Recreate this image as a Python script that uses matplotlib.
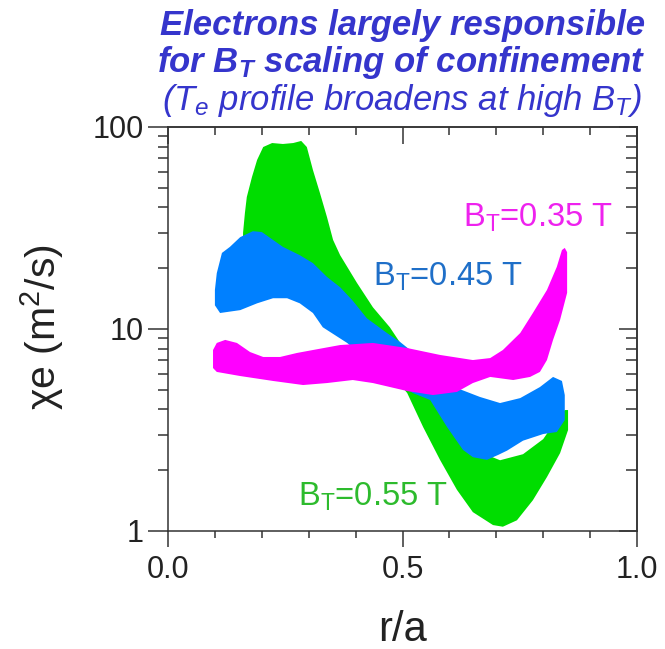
import matplotlib
matplotlib.use('Agg')
import matplotlib.pyplot as plt
from matplotlib.ticker import NullFormatter, LogLocator

plt.rcParams['font.family'] = ['Liberation Sans', 'DejaVu Sans']
plt.rcParams['mathtext.fontset'] = 'custom'
plt.rcParams['mathtext.rm'] = 'Liberation Sans'
plt.rcParams['mathtext.it'] = 'Liberation Sans:italic'
plt.rcParams['mathtext.bf'] = 'Liberation Sans:bold:italic'

# chi_e bands (upper / lower edge of each band), r/a vs m^2/s
green_up_x = [0.160, 0.164, 0.168, 0.179, 0.190, 0.203, 0.222, 0.245, 0.267, 0.284,
              0.296, 0.309, 0.324, 0.339, 0.352, 0.367, 0.403, 0.437, 0.473, 0.501,
              0.559, 0.623, 0.680, 0.708, 0.757, 0.800, 0.825, 0.846, 0.853]
green_up_y = [29.9, 37.5, 45.0, 56.5, 68.7, 79.6, 83.3, 82.4, 83.3, 85.3,
              79.6, 61.3, 47.1, 35.8, 27.6, 23.2, 16.9, 12.8, 10.2, 8.14,
              5.59, 3.54, 2.38, 2.24, 2.40, 2.85, 3.46, 3.97, 3.97]
green_lo_x = [0.160, 0.196, 0.281, 0.367, 0.452, 0.510, 0.544, 0.580, 0.616, 0.650,
              0.693, 0.714, 0.744, 0.778, 0.808, 0.836, 0.853]
green_lo_y = [22.0, 20.7, 16.5, 11.7, 7.02, 4.82, 3.27, 2.25, 1.60, 1.24,
              1.07, 1.05, 1.13, 1.42, 1.85, 2.43, 3.16]

blue_up_x = [0.100, 0.104, 0.115, 0.132, 0.154, 0.181, 0.200, 0.224, 0.245, 0.281,
             0.309, 0.339, 0.367, 0.394, 0.424, 0.467, 0.495, 0.559, 0.616, 0.665,
             0.708, 0.751, 0.793, 0.821, 0.840, 0.846]
blue_up_y = [15.6, 18.9, 23.8, 25.5, 28.5, 30.5, 30.2, 27.6, 25.5, 23.2,
             21.2, 18.1, 16.1, 13.8, 11.3, 9.55, 8.62, 6.56, 5.10, 4.61,
             4.30, 4.55, 5.16, 5.79, 5.53, 4.71]
blue_lo_x = [0.100, 0.111, 0.154, 0.190, 0.224, 0.254, 0.281, 0.309, 0.330, 0.382,
             0.452, 0.522, 0.559, 0.595, 0.629, 0.650, 0.680, 0.704, 0.723, 0.757,
             0.800, 0.829, 0.846]
blue_lo_y = [13.1, 12.0, 12.4, 13.4, 14.2, 14.2, 13.4, 12.0, 10.2, 8.53,
             6.27, 4.82, 4.45, 3.27, 2.52, 2.32, 2.25, 2.38, 2.50, 2.80,
             3.02, 3.09, 3.54]

mag_up_x = [0.096, 0.104, 0.122, 0.147, 0.175, 0.203, 0.239, 0.275, 0.309, 0.367,
            0.437, 0.510, 0.580, 0.650, 0.687, 0.714, 0.751, 0.778, 0.808, 0.829,
            0.840, 0.846, 0.851]
mag_up_y = [7.87, 8.53, 8.83, 8.53, 7.69, 7.27, 7.27, 7.61, 7.87, 8.33,
            8.53, 8.05, 7.44, 7.02, 7.18, 7.87, 9.55, 12.0, 15.6, 20.3,
            24.6, 25.2, 24.0]
mag_lo_x = [0.096, 0.104, 0.154, 0.224, 0.288, 0.339, 0.394, 0.437, 0.510, 0.565,
            0.616, 0.650, 0.687, 0.736, 0.772, 0.793, 0.808, 0.821, 0.836, 0.851]
mag_lo_y = [6.41, 6.13, 5.85, 5.53, 5.28, 5.40, 5.59, 5.40, 4.93, 4.71,
            4.88, 5.40, 5.79, 5.59, 5.79, 6.13, 7.02, 8.83, 11.1, 15.1]

labels = ['0.35', '0.45', '0.55']
label_x = [0.629, 0.437, 0.277]
label_y = [35.5, 18.1, 1.47]
label_col = ['#EE22EE', '#1F6FC8', '#2DBB2D']

GREEN = '#00DD00'
BLUE = '#0080FF'
MAGENTA = '#FF00FF'
AXC = '#333333'


def band(ax, ux, uy, lx, ly, color):
    # closed outline: upper edge left->right, then lower edge back
    xs = list(ux) + list(lx)[::-1]
    ys = list(uy) + list(ly)[::-1]
    ax.fill(xs, ys, color=color, lw=0)


fig = plt.figure(figsize=(6.65, 6.49), dpi=100)
ax = fig.add_axes([168 / 665, 1 - 531 / 649, 469 / 665, 404 / 649])

band(ax, green_up_x, green_up_y, green_lo_x, green_lo_y, GREEN)
band(ax, blue_up_x, blue_up_y, blue_lo_x, blue_lo_y, BLUE)
band(ax, mag_up_x, mag_up_y, mag_lo_x, mag_lo_y, MAGENTA)

for lab, x, y, c in zip(labels, label_x, label_y, label_col):
    ax.text(x, y, r'$\mathrm{B_T}$=' + lab + ' T', color=c, fontsize=23.5,
            ha='left', va='center')

ax.set_yscale('log')
ax.set_xlim(0, 1)
ax.set_ylim(1, 100)

ax.set_yticks([1, 10, 100], ['1', '10', '100'])
ax.yaxis.set_minor_locator(LogLocator(subs=[2, 3, 4, 5, 6, 7, 8, 9]))
ax.yaxis.set_minor_formatter(NullFormatter())
ax.set_xticks([0.0, 0.5, 1.0], ['0.0', '0.5', '1.0'])
ax.set_xticks([0.1, 0.2, 0.3, 0.4, 0.6, 0.7, 0.8, 0.9], minor=True)

for sp in ax.spines.values():
    sp.set_linewidth(1.1)
    sp.set_color(AXC)

ax.tick_params(which='both', direction='out', color=AXC, width=1.1,
               labelsize=22, labelcolor='#222222', top=False, right=False)
ax.tick_params(axis='y', which='major', length=14.4, pad=3)
ax.tick_params(axis='y', which='minor', length=7.2)
ax.tick_params(axis='x', which='major', length=11.5, pad=6)
ax.tick_params(axis='x', which='minor', length=5)

# inward ticks on the top and right edges
top = ax.secondary_xaxis('top')
top.set_xticks([0.0, 0.5, 1.0])
top.set_xticks([0.1, 0.2, 0.3, 0.4, 0.6, 0.7, 0.8, 0.9], minor=True)
top.xaxis.set_major_formatter(NullFormatter())
top.tick_params(which='both', direction='in', color=AXC, width=1.1)
top.tick_params(which='major', length=12.2)
top.tick_params(which='minor', length=5.8)
top.spines['top'].set_linewidth(1.1)
top.spines['top'].set_color(AXC)

right = ax.secondary_yaxis('right')
right.set_yticks([1, 10, 100])
right.yaxis.set_minor_locator(LogLocator(subs=[2, 3, 4, 5, 6, 7, 8, 9]))
right.yaxis.set_major_formatter(NullFormatter())
right.yaxis.set_minor_formatter(NullFormatter())
right.tick_params(which='both', direction='in', color=AXC, width=1.1)
right.tick_params(which='major', length=13)
right.tick_params(which='minor', length=7.9)
right.spines['right'].set_linewidth(1.1)
right.spines['right'].set_color(AXC)

fig.text(42 / 665, 1 - 327 / 649, r'χe (m$^\mathrm{2}$/s)', rotation=90,
         ha='center', va='center', fontsize=29.5, color='#222222')
fig.text(402 / 665, 1 - 630 / 649, 'r/a', ha='center', va='center',
         fontsize=30, color='#222222')

TITLE = '#3535CC'
fig.text(645 / 665, 1 - 35 / 649, 'Electrons largely responsible',
         ha='right', va='baseline', fontsize=25, color=TITLE,
         fontweight='bold', fontstyle='italic')
fig.text(645 / 665, 1 - 72 / 649, r'for $\mathbf{B_T}$ scaling of confinement',
         ha='right', va='baseline', fontsize=25, color=TITLE,
         fontweight='bold', fontstyle='italic')
fig.text(642 / 665, 1 - 110 / 649,
         r'($\mathit{T_e}$ profile broadens at high $\mathit{B_T}$)',
         ha='right', va='baseline', fontsize=25, color=TITLE, fontstyle='italic')

fig.savefig('out.png', dpi=100)
